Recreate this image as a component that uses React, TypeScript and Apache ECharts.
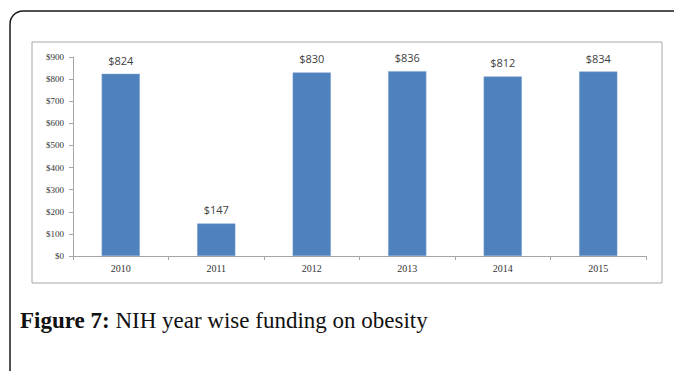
import React, { useEffect, useRef } from "react";
import * as echarts from "echarts";

const years = ["2010", "2011", "2012", "2013", "2014", "2015"];
const funding = [824, 147, 830, 836, 812, 834];
const captionBold = "Figure 7:";
const captionRest = " NIH year wise funding on obesity";

export default function App() {
  const ref = useRef<HTMLDivElement>(null);
  useEffect(() => {
    if (!ref.current) return;
    const chart = echarts.init(ref.current, null, { renderer: "svg" });
    chart.setOption({
      animation: false,
      backgroundColor: "#ffffff",
      grid: { left: 73, top: 57, width: 573, height: 199, containLabel: false },
      xAxis: {
        type: "category",
        data: years,
        boundaryGap: true,
        axisLine: { lineStyle: { color: "#a6a6a6", width: 1 } },
        axisTick: { show: true, alignWithLabel: false, length: 4, lineStyle: { color: "#a6a6a6" } },
        axisLabel: { color: "#333333", fontFamily: "Liberation Serif", fontSize: 10, margin: 7 },
      },
      yAxis: {
        type: "value",
        min: 0,
        max: 900,
        interval: 100,
        splitLine: { show: false },
        axisLine: { show: true, lineStyle: { color: "#a6a6a6", width: 1 } },
        axisTick: { show: true, length: 4, lineStyle: { color: "#a6a6a6" } },
        axisLabel: {
          color: "#333333",
          fontFamily: "Liberation Serif",
          fontSize: 9,
          margin: 9,
          formatter: (v: number) => "$" + v,
        },
      },
      series: [
        {
          type: "bar",
          data: funding,
          barWidth: "40%",
          itemStyle: { color: "#4f81bd", borderColor: "#7ea3d0", borderWidth: 0.5 },
          label: {
            show: true,
            position: "top",
            distance: 8,
            color: "#404040",
            fontFamily: "Open Sans",
            fontSize: 11,
            formatter: (p: any) => "$" + p.value,
          },
        },
      ],
      graphic: [
        {
          type: "rect",
          shape: { x: 10, y: 11, width: 700, height: 420, r: [13, 0, 0, 0] },
          style: { fill: "none", stroke: "#1a1a1a", lineWidth: 1.5 },
          silent: true,
        },
        {
          type: "rect",
          shape: { x: 32, y: 42, width: 630, height: 241 },
          style: { fill: "none", stroke: "#a6a6a6", lineWidth: 1 },
          silent: true,
        },
        {
          type: "text",
          x: 20,
          y: 332,
          style: {
            text: "{b|" + captionBold + "}{r|" + captionRest + "}",
            verticalAlign: "bottom",
            rich: {
              b: { fontFamily: "Liberation Serif", fontWeight: "bold", fontSize: 23, fill: "#111" },
              r: { fontFamily: "Liberation Serif", fontSize: 23, fill: "#111" },
            },
          },
        },
      ],
    });
    return () => chart.dispose();
  }, []);
  return (
    <div
      ref={ref}
      style={{ position: "fixed", left: 0, top: 0, width: 674, height: 371 }}
    />
  );
}
